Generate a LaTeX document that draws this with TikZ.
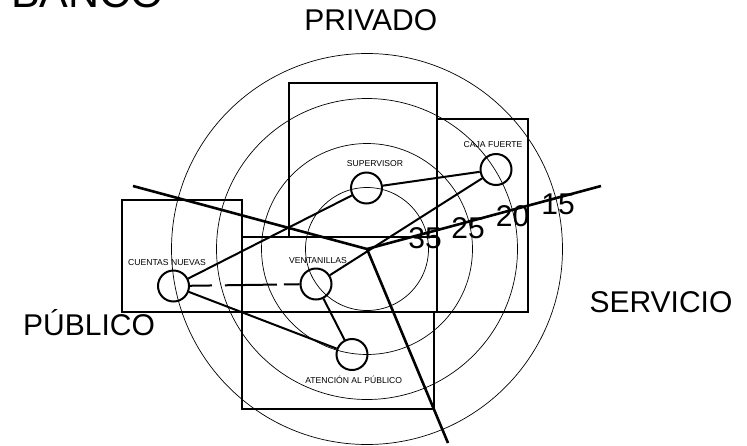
\documentclass[tikz,border=0pt]{standalone}
\usepackage{fontspec}
\setmainfont{Liberation Sans}
\begin{document}
\begin{tikzpicture}[x=1pt,y=-1pt,
  ring/.style={draw,line width=0.7pt},
  room/.style={draw,line width=1.1pt},
  axis/.style={draw,line width=2.6pt},
  link/.style={draw,line width=2pt},
  spot/.style={circle,draw,line width=2pt,minimum size=31pt,inner sep=0pt},
  small/.style={font=\fontsize{8.6}{9}\selectfont,anchor=base,inner sep=0pt},
  big/.style={font=\fontsize{30}{32}\selectfont,anchor=base,inner sep=0pt},
  num/.style={font=\fontsize{30}{32}\selectfont,anchor=base,inner sep=0pt}]
\useasboundingbox[fill=white] (0,0) rectangle (747,445);
% concentric rings
\coordinate (c) at (367,249);
\draw[ring] (c) circle[radius=61.5];
\draw[ring] (c) circle[radius=105.5];
\draw[ring] (c) circle[radius=150.5];
\draw[ring] (c) circle[radius=195.5];
% rooms
\draw[room] (289,83) rectangle (437,237);
\draw[room] (437,119) rectangle (528,312);
\draw[room] (122,200) rectangle (242,312);
\draw[room] (242,237) rectangle (437,312);
\draw[room] (242,312) rectangle (434,409);
% radial axes
\coordinate (ul) at (133,186);
\coordinate (dn) at (448,443);
\coordinate (ur) at (601,186);
\draw[axis] (ul) -- (c);
\draw[axis] (c) -- (dn);
\draw[axis] (c) -- (ur);
% spots
\node[spot] (sup) at (366.5,188) {};
\node[spot] (caja) at (496,169.5) {};
\node[spot] (cue) at (173.5,286) {};
\node[spot] (ven) at (316,284) {};
\node[spot] (ate) at (352,354.5) {};
% links
\draw[link] (sup) -- (caja);
\draw[link] (cue) -- (sup);
\draw[link] (ven) -- (caja);
\draw[link] (cue) -- (ate);
\draw[link] (ven) -- (ate);
\draw[link,dash pattern=on 22pt off 13pt on 52pt off 7pt on 40pt off 0pt] (cue) -- (ven);
% small labels
\node[small] (lsup) at (375,166.7) {SUPERVISOR};
\node[small] (lcaja) at (493,147.7) {CAJA FUERTE};
\node[small] (lcue) at (167,265) {CUENTAS NUEVAS};
\node[small] (lven) at (318,263.3) {VENTANILLAS};
\node[small] (late) at (353.7,383.3) {ATENCIÓN AL PÚBLICO};
% numbers
\node[num] (n35) at (425,248.3) {35};
\node[num] (n25) at (468,238.3) {25};
\node[num] (n20) at (512.5,226.7) {20};
\node[num] (n15) at (558,214) {15};
% zone labels
\node[big] (priv) at (370.8,30.7) {PRIVADO};
\node[big] (pub) at (89,335) {PÚBLICO};
\node[big] (serv) at (661,312) {SERVICIO};
\node[font=\fontsize{43}{45}\selectfont,anchor=base west,inner sep=0pt] (banco) at (11,7) {BANCO};
\end{tikzpicture}
\end{document}
